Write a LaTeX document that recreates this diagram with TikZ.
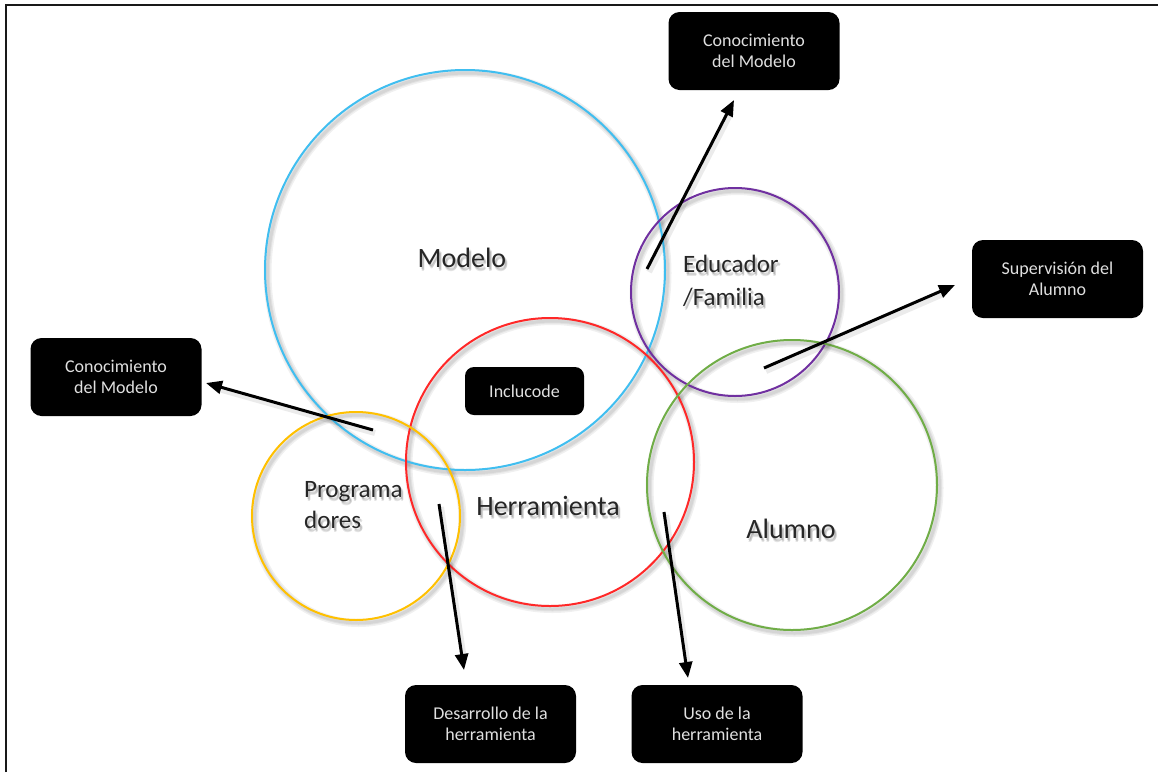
\documentclass[tikz,border=0pt]{standalone}
\usepackage{fontspec}
\setmainfont{Carlito}
\usetikzlibrary{arrows.meta,calc}

\definecolor{modelblue}{RGB}{64,190,240}
\definecolor{toolred}{RGB}{255,40,40}
\definecolor{devyellow}{RGB}{255,192,0}
\definecolor{familypurple}{RGB}{112,48,160}
\definecolor{studentgreen}{RGB}{112,173,71}
\definecolor{labelgray}{RGB}{38,38,38}

\tikzset{
  ring/.style={circle, draw=#1, line width=2pt, inner sep=0pt},
  ringshade/.style={draw=black, line width=#1, opacity=0.06},
  tag/.style={fill=black, rounded corners=11pt, minimum width=171pt,
    minimum height=78pt, inner sep=0pt, align=center,
    text=white!88!black, font=\fontsize{18}{21.5}\selectfont},
  biglabel/.style={text=labelgray, inner sep=0pt, font=\fontsize{28}{34}\selectfont},
  midlabel/.style={text=labelgray, inner sep=0pt, font=\fontsize{25}{33}\selectfont},
  shade/.style={text=black, opacity=0.10},
  link/.style={line width=3pt, black, -{Triangle[length=16pt,width=13pt]}},
  linkshade/.style={line width=6pt, black, opacity=0.08},
}

\begin{document}
\begin{tikzpicture}[x=1pt,y=-1pt]
  \useasboundingbox (0,0) rectangle (1159,772);

  % frame (top and left edges)
  \draw[line width=2pt, black!90] (6,772) -- (6,5) -- (1158,5);

  % soft shadows under the circles
  \foreach \cx/\cy/\r in {465/270/200, 550/462/144, 356/516/104, 735/292/104, 792/485/145}{
    \foreach \w in {8pt,5pt,3pt}{
      \draw[ringshade=\w] (\cx+2.5,\cy+3) circle[radius=\r pt];
    }
  }

  % circles
  \node[ring=modelblue,    minimum size=400pt] (modelo)        at (465,270) {};
  \node[ring=toolred,      minimum size=288pt] (herramienta)   at (550,462) {};
  \node[ring=devyellow,    minimum size=208pt] (programadores) at (356,516) {};
  \node[ring=familypurple, minimum size=208pt] (educador)      at (735,292) {};
  \node[ring=studentgreen, minimum size=290pt] (alumno)        at (792,485) {};

  % soft drop shadow behind the circle labels
  \foreach \dx/\dy [count=\i] in {1.5/2.5,2.5/3.5,2/4.5}{
    \node[biglabel, shade, anchor=base] (modeloshade\i) at (462+\dx,267+\dy) {Modelo};
    \node[biglabel, shade, anchor=base] (herrshade\i)   at (548+\dx,515+\dy) {Herramienta};
    \node[biglabel, shade, anchor=base] (alumnoshade\i) at (791+\dx,538+\dy) {Alumno};
    \node[midlabel, shade, anchor=base west] (educshadeA\i) at (683+\dx,272+\dy) {Educador};
    \node[midlabel, shade, anchor=base west] (educshadeB\i) at (683+\dx,305+\dy) {/Familia};
    \node[midlabel, shade, anchor=base west] (progshadeA\i) at (304+\dx,497+\dy) {Programa};
    \node[midlabel, shade, anchor=base west] (progshadeB\i) at (304+\dx,528+\dy) {dores};
  }

  % circle labels
  \node[biglabel, anchor=base] (modelotext) at (462,267) {Modelo};
  \node[biglabel, anchor=base] (herrtext)   at (548,515) {Herramienta};
  \node[biglabel, anchor=base] (alumnotext) at (791,538) {Alumno};
  \node[midlabel, anchor=base west] (eductextA) at (683,272) {Educador};
  \node[midlabel, anchor=base west] (eductextB) at (683,305) {/Familia};
  \node[midlabel, anchor=base west] (progtextA) at (304,497) {Programa};
  \node[midlabel, anchor=base west] (progtextB) at (304,528) {dores};

  % black tags
  \node[tag] (conTop)  at (754,51)     {Conocimiento\\del Modelo};
  \node[tag] (conLeft) at (116,377)    {Conocimiento\\del Modelo};
  \node[tag] (superv)  at (1057.5,279) {Supervisión del\\Alumno};
  \node[tag] (desarr)  at (490.5,724)  {Desarrollo de la\\herramienta};
  \node[tag] (uso)     at (717,724)    {Uso de la\\herramienta};
  \node[tag, minimum width=119pt, minimum height=48pt, rounded corners=9pt] (inclucode) at (524.5,391) {Inclucode};

  % arrow end points
  \coordinate (famStart)  at (647,269);
  \coordinate (famTip)    at (734,100);
  \coordinate (stuStart)  at (764,368);
  \coordinate (stuTip)    at (955,285);
  \coordinate (devStart)  at (373,430);
  \coordinate (devTip)    at (206,383);
  \coordinate (toolStart) at (439,504);
  \coordinate (toolTip)   at (464,670);
  \coordinate (useStart)  at (664,512);
  \coordinate (useTip)    at (688,678);

  % arrow shadows
  \foreach \s/\t in {famStart/famTip, stuStart/stuTip, devStart/devTip, toolStart/toolTip, useStart/useTip}{
    \draw[linkshade] ($(\s)+(2,3)$) -- ($(\t)!14pt!(\s)+(2,3)$);
  }

  % arrows
  \draw[link] (famStart)  -- (famTip);
  \draw[link] (stuStart)  -- (stuTip);
  \draw[link] (devStart)  -- (devTip);
  \draw[link] (toolStart) -- (toolTip);
  \draw[link] (useStart)  -- (useTip);
\end{tikzpicture}
\end{document}
